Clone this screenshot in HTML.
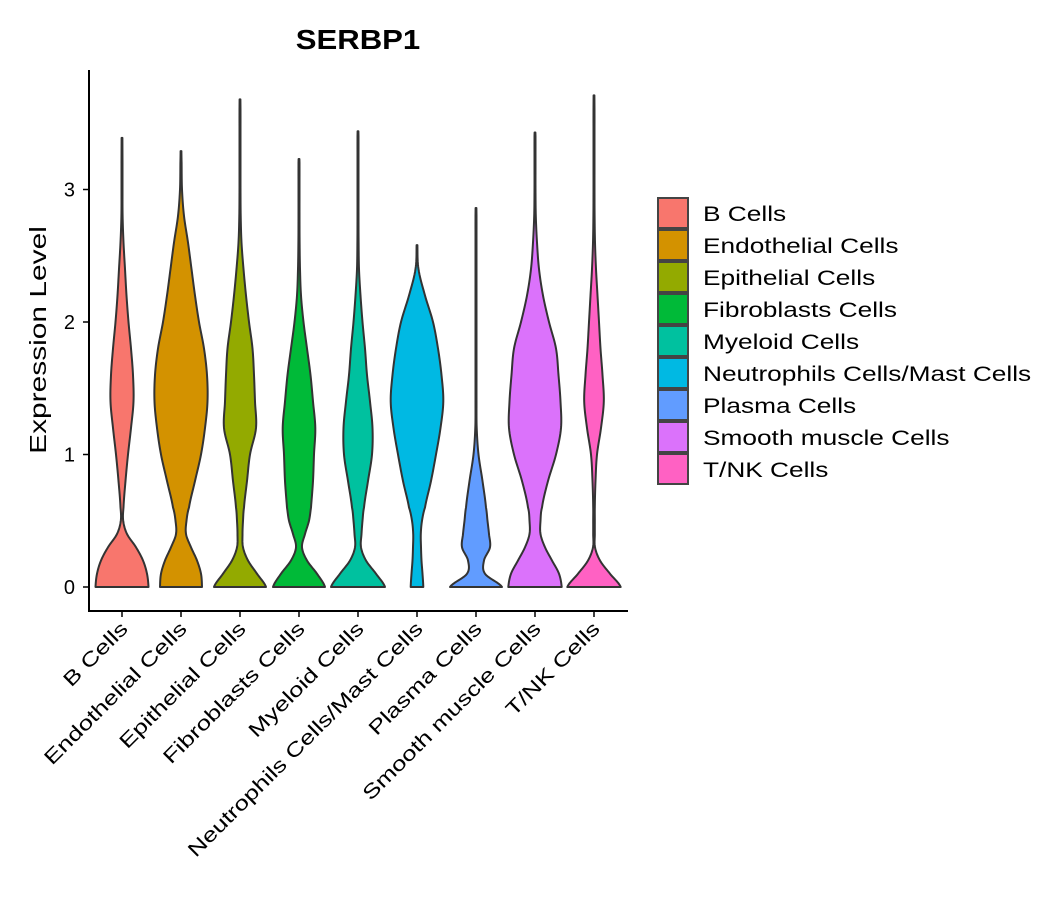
<!DOCTYPE html>
<html><head><meta charset="utf-8"><style>
body{margin:0;background:#fff;}
svg{display:block;font-family:"Liberation Sans","DejaVu Sans",sans-serif;}
</style></head><body>
<svg id="chart" width="1057" height="900" viewBox="0 0 1057 900">
<text id="title" x="358" y="49" text-anchor="middle" font-size="28" font-weight="bold">SERBP1</text>
<text id="ytitle" transform="translate(46,340) rotate(-90)" text-anchor="middle" font-size="23">Expression Level</text>
<g id="plot"></g>
<g id="legend"></g>
</svg>
<script>
const categories=["B Cells","Endothelial Cells","Epithelial Cells","Fibroblasts Cells","Myeloid Cells","Neutrophils Cells/Mast Cells","Plasma Cells","Smooth muscle Cells","T/NK Cells"];
const colors=["#F8766D","#D39200","#93AA00","#00BA38","#00C19F","#00B9E3","#619CFF","#DB72FB","#FF61C3"];
const yTicks=[0,1,2,3];
const maxValues=[3.39,3.29,3.68,3.23,3.44,2.58,2.86,3.43,3.71];
const densityGrid=[0,0.1,0.2,0.3,0.4,0.5,0.6,0.8,1.0,1.2,1.4,1.6,1.8,2.0,2.2,2.4,2.6,2.8,3.0,3.2,3.4,3.6,3.8];
const densB=[26.5,25,21,14,5,1.2,1.5,3.5,6,9,11.5,11,9,6.5,4.5,3,1.5,0.6,0.5,0.5,0.5,0.5,0.5];
const densEndo=[21,20,16,10,5,5.5,8,14,20,24,26.5,26,23,18,14,10.5,7,3,1,0.6,0.5,0.5,0.5];
const densEpi=[26,17,8,3,2.5,3,4,7,10,16,15,14,12.5,9,6,3.5,1.5,0.7,0.5,0.5,0.5,0.5,0.5];
const densFibro=[26,18,8,3,6,10,12,14,15,16.3,14,11.5,8,4.5,2,1,0.6,0.5,0.5,0.5,0.5,0.5,0.5];
const densMyeloid=[27,18,8,3,3.5,4.5,6,10,14,14.5,12,9,7,4.5,2.5,1,0.6,0.5,0.5,0.5,0.5,0.5,0.5];
const densNeutro=[6.3,5.5,4.5,4,3.8,5,8,14,19,23.5,26.3,24.5,21,16,8,1.5,0.6,0.5,0.5,0.5,0.5,0.5,0.5];
const densPlasma=[26,9,8,14,13,11.5,10,6.5,2.5,0.7,0.5,0.5,0.5,0.5,0.5,0.5,0.5,0.5,0.5,0.5,0.5,0.5,0.5];
const densSmooth=[26.7,24,17,10,5.5,5.5,7,13,21,26,25.5,23.5,21,14,8,4,2,0.8,0.5,0.5,0.5,0.5,0.5];
const densTNK=[26.7,16,6,1,0.8,0.8,0.8,1.5,3,7,9.8,8.5,6.5,5,3.5,2,1,0.6,0.5,0.5,0.5,0.5,0.5];
const densities=[densB,densEndo,densEpi,densFibro,densMyeloid,densNeutro,densPlasma,densSmooth,densTNK];

const NS="http://www.w3.org/2000/svg";
const plot=document.getElementById('plot');
const legend=document.getElementById('legend');
const X0=89,X1=628,Y0=611,Ytop=70;
const yScale=v=>587-v*132.5;
const xScale=i=>122+i*59;
function mk(tag,attrs,parent){const e=document.createElementNS(NS,tag);for(const k in attrs)e.setAttribute(k,attrs[k]);parent.appendChild(e);return e;}
function stretch(el,k){const L=el.getComputedTextLength();el.setAttribute('textLength',(L*k).toFixed(1));el.setAttribute('lengthAdjust','spacingAndGlyphs');}

categories.forEach((c,i)=>{
  const d=densities[i],mx=maxValues[i],cx=xScale(i);
  const pts=[];
  for(let k=0;k<densityGrid.length;k++){
    if(densityGrid[k]>=mx){break;}
    pts.push([densityGrid[k],d[k]]);
  }
  pts.push([mx,0.4]);
  const fine=[];
  for(let k=0;k<pts.length-1;k++){
    const p0=pts[Math.max(0,k-1)],p1=pts[k],p2=pts[k+1],p3=pts[Math.min(pts.length-1,k+2)];
    for(let t=0;t<1;t+=0.1){
      const t2=t*t,t3=t2*t;
      const w=0.5*((2*p1[1])+(-p0[1]+p2[1])*t+(2*p0[1]-5*p1[1]+4*p2[1]-p3[1])*t2+(-p0[1]+3*p1[1]-3*p2[1]+p3[1])*t3);
      fine.push([p1[0]+(p2[0]-p1[0])*t,Math.max(0.4,w)]);
    }
  }
  fine.push(pts[pts.length-1]);
  let s='';
  fine.forEach((p,j)=>{s+=(j?'L':'M')+(cx+p[1]).toFixed(2)+','+yScale(p[0]).toFixed(2);});
  for(let j=fine.length-1;j>=0;j--){s+='L'+(cx-fine[j][1]).toFixed(2)+','+yScale(fine[j][0]).toFixed(2);}
  s+='Z';
  const p=mk('path',{d:s,fill:colors[i],stroke:'#333','stroke-width':2,'stroke-linejoin':'round'},plot);
  
  
  const tk=mk('line',{x1:cx,x2:cx,y1:Y0,y2:Y0+6,stroke:'#000','stroke-width':1.5},plot);
  
  
  const tx=mk('text',{transform:`translate(${cx+7},${Y0+19}) rotate(-45)`,'text-anchor':'end','font-size':20},plot);
  tx.textContent=c;
  
  
  stretch(tx,1.29);
  const ly=198+i*32;
  const r=mk('rect',{x:658,y:ly,width:30,height:30,fill:colors[i],stroke:'#444','stroke-width':2},legend);
  
  
  const lt=mk('text',{x:703,y:ly+23,'font-size':21},legend);
  lt.textContent=c;
  
  
  stretch(lt,1.25);
});
const ya=mk('line',{x1:X0,x2:X0,y1:Ytop,y2:Y0+1,stroke:'#000','stroke-width':2},plot);


const xa=mk('line',{x1:X0-1,x2:X1,y1:Y0,y2:Y0,stroke:'#000','stroke-width':2},plot);


yTicks.forEach(v=>{
  const y=yScale(v);
  const t=mk('line',{x1:X0-6,x2:X0,y1:y,y2:y,stroke:'#000','stroke-width':1.5},plot);
  
  
  const l=mk('text',{x:X0-14,y:y+7,'text-anchor':'end','font-size':20},plot);
  l.textContent=v;
  
  
});
stretch(document.getElementById('title'),1.11);
stretch(document.getElementById('ytitle'),1.3);
</script>
</body></html>
